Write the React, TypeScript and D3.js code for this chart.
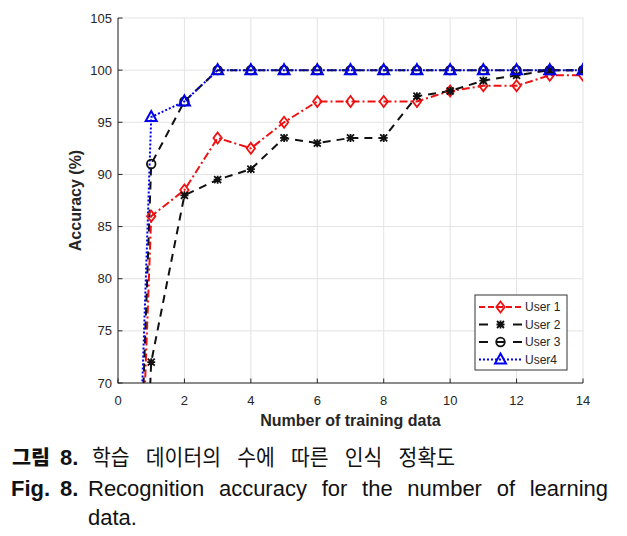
import React from "react";
import * as d3 from "d3";

const trainingCounts = [0, 1, 2, 3, 4, 5, 6, 7, 8, 9, 10, 11, 12, 13, 14];
const user1 = [0, 86, 88.5, 93.5, 92.5, 95, 97, 97, 97, 97, 98, 98.5, 98.5, 99.5, 99.5];
const user2 = [0, 72, 88, 89.5, 90.5, 93.5, 93, 93.5, 93.5, 97.5, 98, 99, 99.5, 100, 100];
const user3 = [0, 91, 97, 100, 100, 100, 100, 100, 100, 100, 100, 100, 100, 100, 100];
const user4 = [0, 95.5, 97, 100, 100, 100, 100, 100, 100, 100, 100, 100, 100, 100, 100];
const xTicks = [0, 2, 4, 6, 8, 10, 12, 14];
const yTicks = [70, 75, 80, 85, 90, 95, 100, 105];
const seriesNames = ["User 1", "User 2", "User 3", "User4"];
const captionKo = "학습 데이터의 수에 따른 인식 정확도";
const captionEn = "Recognition accuracy for the number of learning";

const RED = "#ee1111";
const BLUE = "#0000ee";
const BLACK = "#111111";
const AX = "#262626";
const FONT = "'Liberation Sans', Arial, Helvetica, sans-serif";
const KFONT = "'Noto Sans CJK KR', 'Noto Sans CJK SC', sans-serif";

type Marker = "diamond" | "star" | "circle" | "triangle";

let _ctx: CanvasRenderingContext2D | null = null;
function measure(text: string, font: string): number {
  if (typeof document === "undefined") return text.length * 10;
  if (!_ctx) _ctx = document.createElement("canvas").getContext("2d");
  if (!_ctx) return text.length * 10;
  _ctx.font = font;
  return _ctx.measureText(text).width;
}

function Justified({
  text, x0, x1, y, size, family, weight = "normal", fixedAdvance,
}: {
  text: string; x0: number; x1: number; y: number; size: number; family: string; weight?: string; fixedAdvance?: number;
}) {
  const words = text.split(" ");
  const font = `${weight} ${size}px ${family}`;
  const widths = words.map((w) => (fixedAdvance ? Array.from(w).length * fixedAdvance : measure(w, font)));
  const total = d3.sum(widths);
  const gap = words.length > 1 ? (x1 - x0 - total) / (words.length - 1) : 0;
  let cx = x0;
  return (
    <g>
      {words.map((w, i) => {
        const px = cx;
        cx += widths[i] + gap;
        return (
          <text
            key={i}
            x={px}
            y={y}
            fontFamily={family}
            fontSize={size}
            fontWeight={weight}
            fill="#111"
            {...(fixedAdvance ? { textLength: widths[i], lengthAdjust: "spacingAndGlyphs" } : {})}
          >
            {w}
          </text>
        );
      })}
    </g>
  );
}

function MarkerShape({ kind, color }: { kind: Marker; color: string }) {
  if (kind === "diamond")
    return <path d="M0,-5.5 L4.2,0 L0,5.5 L-4.2,0 Z" fill="none" stroke={color} strokeWidth={1.8} />;
  if (kind === "circle") return <circle r={4.3} fill="none" stroke={color} strokeWidth={1.8} />;
  if (kind === "triangle")
    return <path d="M0,-6 L5.5,4 L-5.5,4 Z" fill="none" stroke={color} strokeWidth={2} strokeLinejoin="miter" />;
  return (
    <path
      d="M-3.5,-3.5 L3.5,3.5 M-3.5,3.5 L3.5,-3.5 M0,-4 L0,4 M-4,0 L4,0"
      fill="none"
      stroke={color}
      strokeWidth={1.8}
    />
  );
}

export default function App() {
  const x = d3.scaleLinear().domain([0, 14]).range([118, 583]);
  const y = d3.scaleLinear().domain([70, 105]).range([383, 18]);
  const [x0, x1] = x.range();
  const [yb, yt] = y.range();

  const series = [
    { name: seriesNames[0], values: user1, color: RED, dash: "8,3,2,3", width: 2, marker: "diamond" as Marker, legend: "dashed" },
    { name: seriesNames[1], values: user2, color: BLACK, dash: "8,6", width: 2, marker: "star" as Marker, legend: "split" },
    { name: seriesNames[2], values: user3, color: BLACK, dash: "8,6", width: 2, marker: "circle" as Marker, legend: "splitbar" },
    { name: seriesNames[3], values: user4, color: BLUE, dash: "2,2", width: 2, marker: "triangle" as Marker, legend: "dotted" },
  ];

  const line = d3
    .line<number>()
    .x((_, i) => x(trainingCounts[i]))
    .y((d) => y(d));

  const legendX = 475;
  const legendY = 295;
  const legendW = 92;
  const legendH = 75;
  const rowY = (i: number) => legendY + 12 + i * 17.5;
  const lx0 = 479;
  const lx1 = 522;
  const lxm = 500.5;

  return (
    <svg
      width={627}
      height={536}
      style={{ position: "absolute", left: 0, top: 0, display: "block", background: "#fff" }}
    >
      <defs>
        <clipPath id="plotClip">
          <rect x={x0} y={yt} width={x1 - x0} height={yb - yt} />
        </clipPath>
      </defs>
      <rect x={0} y={0} width={627} height={536} fill="#fff" />
      {/* grid */}
      {xTicks.map((t) => (
        <line key={"gx" + t} x1={x(t)} x2={x(t)} y1={yt} y2={yb} stroke="#e3e3e3" strokeWidth={1} />
      ))}
      {yTicks.map((t) => (
        <line key={"gy" + t} x1={x0} x2={x1} y1={y(t)} y2={y(t)} stroke="#e3e3e3" strokeWidth={1} />
      ))}
      {/* axes */}
      <line x1={x0} x2={x0} y1={yt} y2={yb + 0.5} stroke={AX} strokeWidth={1} />
      <line x1={x0} x2={x1} y1={yb} y2={yb} stroke={AX} strokeWidth={1} />
      {xTicks.map((t) => (
        <g key={"tx" + t}>
          <line x1={x(t)} x2={x(t)} y1={yb} y2={yb - 4.5} stroke={AX} />
          <text x={x(t)} y={405} textAnchor="middle" fontFamily={FONT} fontSize={13} fill={AX}>
            {t}
          </text>
        </g>
      ))}
      {yTicks.map((t) => (
        <g key={"ty" + t}>
          <line x1={x0} x2={x0 + 4.5} y1={y(t)} y2={y(t)} stroke={AX} />
          <text x={112} y={y(t) + 4.5} textAnchor="end" fontFamily={FONT} fontSize={13} fill={AX}>
            {t}
          </text>
        </g>
      ))}
      {/* axis titles */}
      <text
        x={(x0 + x1) / 2}
        y={426}
        textAnchor="middle"
        fontFamily={FONT}
        fontWeight="bold"
        fontSize={16}
        fill={AX}
      >
        Number of training data
      </text>
      <text
        transform={`translate(81,${(yt + yb) / 2}) rotate(-90)`}
        textAnchor="middle"
        fontFamily={FONT}
        fontWeight="bold"
        fontSize={16}
        fill={AX}
      >
        Accuracy (%)
      </text>
      {/* series */}
      <g clipPath="url(#plotClip)">
        {series.map((s) => (
          <path
            key={s.name}
            d={line(s.values) || ""}
            fill="none"
            stroke={s.color}
            strokeWidth={s.width}
            strokeDasharray={s.dash}
          />
        ))}
        {series.map((s) => (
          <g key={s.name + "m"}>
            {s.values.map((v, i) => (
              <g key={i} transform={`translate(${x(trainingCounts[i])},${y(v)})`}>
                <MarkerShape kind={s.marker} color={s.color} />
              </g>
            ))}
          </g>
        ))}
      </g>
      {/* legend */}
      <rect x={legendX} y={legendY} width={legendW} height={legendH} fill="#fff" stroke="#333" strokeWidth={1} />
      {series.map((s, i) => {
        const ry = rowY(i);
        return (
          <g key={s.name + "l"}>
            {s.legend === "dashed" && (
              <line x1={lx0} x2={lx1} y1={ry} y2={ry} stroke={s.color} strokeWidth={2} strokeDasharray="6,3" />
            )}
            {s.legend === "dotted" && (
              <line x1={lx0} x2={lx1} y1={ry} y2={ry} stroke={s.color} strokeWidth={2} strokeDasharray="2,2" />
            )}
            {(s.legend === "split" || s.legend === "splitbar") && (
              <g>
                <line x1={lx0} x2={lx0 + 9} y1={ry} y2={ry} stroke={s.color} strokeWidth={2} />
                <line x1={lx1 - 9} x2={lx1} y1={ry} y2={ry} stroke={s.color} strokeWidth={2} />
              </g>
            )}
            {s.legend === "splitbar" && (
              <line x1={lxm - 4} x2={lxm + 4} y1={ry} y2={ry} stroke={s.color} strokeWidth={2} />
            )}
            <g transform={`translate(${lxm},${ry})`}>
              <MarkerShape kind={s.marker} color={s.color} />
            </g>
            <text x={525} y={ry + 4.3} fontFamily={FONT} fontSize={12} fill={AX}>
              {s.name}
            </text>
          </g>
        );
      })}
      {/* caption */}
      <text x={12} y={465} fontFamily={KFONT} fontWeight={900} fontSize={20} fill="#111" textLength={38} lengthAdjust="spacingAndGlyphs">
        그림
      </text>
      <text x={60} y={465} fontFamily={FONT} fontWeight="bold" fontSize={22} fill="#111">
        8.
      </text>
      <Justified text={captionKo} x0={92} x1={455} y={465} size={21.5} family={KFONT} fixedAdvance={18.8} />
      <text x={11} y={496} fontFamily={FONT} fontWeight="bold" fontSize={22} fill="#111">
        Fig.
      </text>
      <text x={60} y={496} fontFamily={FONT} fontWeight="bold" fontSize={22} fill="#111">
        8.
      </text>
      <Justified text={captionEn} x0={88} x1={608} y={496} size={22} family={FONT} />
      <text x={88} y={525} fontFamily={FONT} fontSize={22} fill="#111">
        data.
      </text>
    </svg>
  );
}
